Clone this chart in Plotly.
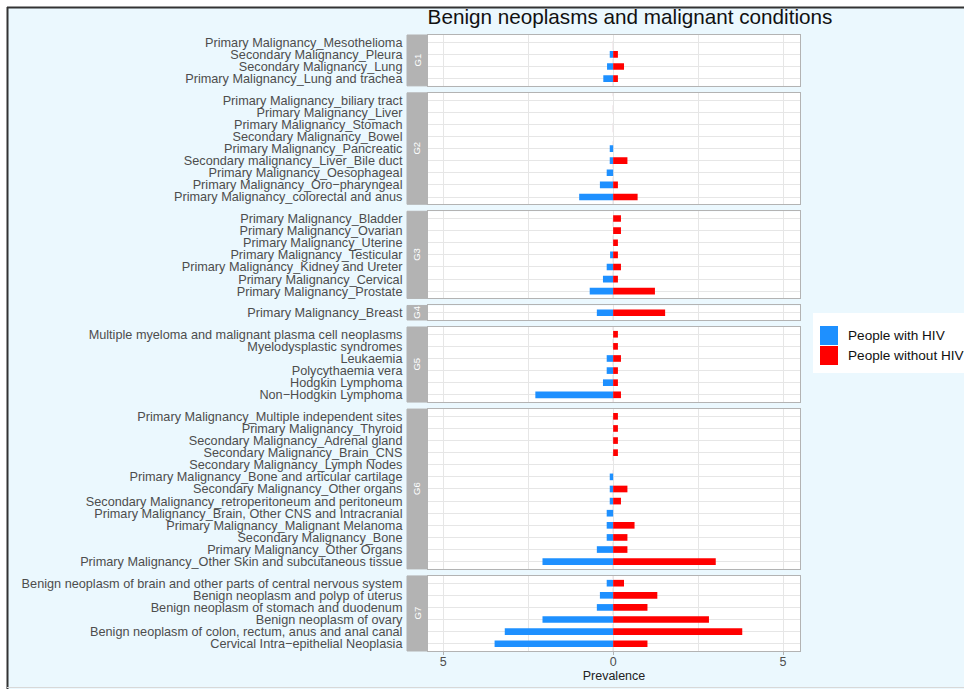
import plotly.graph_objects as go
from plotly.subplots import make_subplots

title = "Benign neoplasms and malignant conditions"
groups = ["G1", "G2", "G3", "G4", "G5", "G6", "G7"]

g1_labels = ["Primary Malignancy_Mesothelioma", "Secondary Malignancy_Pleura",
             "Secondary Malignancy_Lung", "Primary Malignancy_Lung and trachea"]
g1_hiv = [0.0, 0.10, 0.18, 0.29]
g1_nohiv = [0.0, 0.14, 0.32, 0.14]

g2_labels = ["Primary Malignancy_biliary tract", "Primary Malignancy_Liver",
             "Primary Malignancy_Stomach", "Secondary Malignancy_Bowel",
             "Primary Malignancy_Pancreatic", "Secondary malignancy_Liver_Bile duct",
             "Primary Malignancy_Oesophageal", "Primary Malignancy_Oro\u2212pharyngeal",
             "Primary Malignancy_colorectal and anus"]
g2_hiv = [0.0, 0.0, 0.0, 0.0, 0.10, 0.10, 0.19, 0.39, 1.00]
g2_nohiv = [0.0, 0.0, 0.0, 0.0, 0.0, 0.42, 0.0, 0.14, 0.72]

g3_labels = ["Primary Malignancy_Bladder", "Primary Malignancy_Ovarian",
             "Primary Malignancy_Uterine", "Primary Malignancy_Testicular",
             "Primary Malignancy_Kidney and Ureter", "Primary Malignancy_Cervical",
             "Primary Malignancy_Prostate"]
g3_hiv = [0.0, 0.0, 0.0, 0.09, 0.19, 0.30, 0.69]
g3_nohiv = [0.23, 0.23, 0.14, 0.14, 0.23, 0.14, 1.23]

g4_labels = ["Primary Malignancy_Breast"]
g4_hiv = [0.48]
g4_nohiv = [1.53]

g5_labels = ["Multiple myeloma and malignant plasma cell neoplasms", "Myelodysplastic syndromes",
             "Leukaemia", "Polycythaemia vera", "Hodgkin Lymphoma", "Non\u2212Hodgkin Lymphoma"]
g5_hiv = [0.0, 0.0, 0.19, 0.19, 0.30, 2.29]
g5_nohiv = [0.14, 0.14, 0.23, 0.14, 0.14, 0.23]

g6_labels = ["Primary Malignancy_Multiple independent sites", "Primary Malignancy_Thyroid",
             "Secondary Malignancy_Adrenal gland", "Secondary Malignancy_Brain_CNS",
             "Secondary Malignancy_Lymph Nodes", "Primary Malignancy_Bone and articular cartilage",
             "Secondary Malignancy_Other organs", "Secondary Malignancy_retroperitoneum and peritoneum",
             "Primary Malignancy_Brain, Other CNS and Intracranial", "Primary Malignancy_Malignant Melanoma",
             "Secondary Malignancy_Bone", "Primary Malignancy_Other Organs",
             "Primary Malignancy_Other Skin and subcutaneous tissue"]
g6_hiv = [0.0, 0.0, 0.0, 0.0, 0.0, 0.10, 0.10, 0.10, 0.19, 0.19, 0.19, 0.48, 2.08]
g6_nohiv = [0.14, 0.14, 0.14, 0.14, 0.0, 0.0, 0.42, 0.23, 0.0, 0.63, 0.42, 0.42, 3.02]

g7_labels = ["Benign neoplasm of brain and other parts of central nervous system",
             "Benign neoplasm and polyp of uterus", "Benign neoplasm of stomach and duodenum",
             "Benign neoplasm of ovary", "Benign neoplasm of colon, rectum, anus and anal canal",
             "Cervical Intra\u2212epithelial Neoplasia"]
g7_hiv = [0.19, 0.39, 0.48, 2.08, 3.19, 3.49]
g7_nohiv = [0.32, 1.30, 1.01, 2.82, 3.80, 1.01]

all_labels = [g1_labels, g2_labels, g3_labels, g4_labels, g5_labels, g6_labels, g7_labels]
all_hiv = [g1_hiv, g2_hiv, g3_hiv, g4_hiv, g5_hiv, g6_hiv, g7_hiv]
all_nohiv = [g1_nohiv, g2_nohiv, g3_nohiv, g4_nohiv, g5_nohiv, g6_nohiv, g7_nohiv]

x_ticks = [-5, 0, 5]
x_ticktext = ["5", "0", "5"]
series_names = ["People with HIV", "People without HIV"]

BLUE = "#1e90ff"
RED = "#ff0000"
BORDER = "#b3b3b3"
GRID = "#e6e6e6"
BG = "#ebf8fe"
FONT = "Liberation Sans, Arial"

W, H = 964, 689
ML, MR, MT, MB = 428, 164, 35, 38
PW = W - ML - MR
PH = H - MT - MB
SPACING = 7

def px2x(px):
    return (px - ML) / PW

def py2y(py):
    return (H - MB - py) / PH

heights = [len(l) + 0.2 for l in all_labels]
fig = make_subplots(rows=7, cols=1, shared_xaxes=True, row_heights=heights,
                    vertical_spacing=SPACING / PH)

shapes = []
annotations = []
for i, (labs, hv, nh) in enumerate(zip(all_labels, all_hiv, all_nohiv)):
    r = i + 1
    fig.add_trace(go.Bar(y=labs, x=[-v for v in hv], orientation="h", name=series_names[0],
                         marker=dict(color=BLUE, line=dict(width=0)), width=0.55,
                         showlegend=False), row=r, col=1)
    fig.add_trace(go.Bar(y=labs, x=nh, orientation="h", name=series_names[1],
                         marker=dict(color=RED, line=dict(width=0)), width=0.55,
                         showlegend=False), row=r, col=1)
    n = len(labs)
    fig.update_yaxes(row=r, col=1, type="category", categoryorder="array",
                     categoryarray=labs[::-1], range=[-0.6, n - 0.4],
                     tickmode="array", tickvals=labs, ticktext=labs,
                     showgrid=True, gridcolor=GRID, gridwidth=1,
                     showline=True, linecolor=BORDER, linewidth=1, mirror=True,
                     ticks="", ticklabelstandoff=22, automargin=False,
                     tickfont=dict(family=FONT, size=12.7, color="#4d4d4d"),
                     fixedrange=True)
    fig.update_xaxes(row=r, col=1, range=[-5.45, 5.5], tickvals=x_ticks, ticktext=x_ticktext,
                     showgrid=True, gridcolor=GRID, gridwidth=1,
                     minor=dict(tickvals=[-2.5, 2.5], showgrid=True, gridcolor=GRID, gridwidth=1),
                     showline=True, linecolor=BORDER, linewidth=1, mirror=True,
                     zeroline=False, showticklabels=(r == 7), automargin=False,
                     ticks="outside" if r == 7 else "", ticklen=3, tickcolor=BORDER,
                     ticklabelstandoff=-4,
                     tickfont=dict(family=FONT, size=12.5, color="#4d4d4d"), fixedrange=True)
    yref = "y" if r == 1 else f"y{r}"
    xref = "x" if r == 1 else f"x{r}"
    shapes.append(dict(type="line", xref=xref, yref=yref + " domain", x0=0, x1=0, y0=0, y1=1,
                       line=dict(color="rgba(210,170,185,0.6)", width=1, dash="dash"), layer="below"))
    shapes.append(dict(type="rect", xref="paper", yref=yref + " domain",
                       x0=px2x(407), x1=px2x(427), y0=0, y1=1,
                       fillcolor=BORDER, line=dict(color=BORDER, width=1), layer="above"))
    annotations.append(dict(text=groups[i], xref="paper", yref=yref + " domain",
                            x=px2x(417), y=0.5, showarrow=False, textangle=-90,
                            font=dict(family=FONT, size=9.5, color="white"),
                            xanchor="center", yanchor="middle"))

fig.update_xaxes(row=7, col=1, title=dict(text="Prevalence", standoff=3,
                 font=dict(family=FONT, size=12.5, color="#222222")))

# white outside the frame, dark frame lines, faint bottom line
shapes.append(dict(type="rect", xref="paper", yref="paper", x0=px2x(-5), x1=px2x(W + 5),
                   y0=py2y(7), y1=py2y(-5), fillcolor="white", line=dict(width=0)))
shapes.append(dict(type="rect", xref="paper", yref="paper", x0=px2x(-5), x1=px2x(7),
                   y0=py2y(H + 5), y1=py2y(-5), fillcolor="white", line=dict(width=0)))
shapes.append(dict(type="line", xref="paper", yref="paper", x0=px2x(7), x1=px2x(W + 5),
                   y0=py2y(7.5), y1=py2y(7.5), line=dict(color="#333333", width=2)))
shapes.append(dict(type="line", xref="paper", yref="paper", x0=px2x(7.5), x1=px2x(7.5),
                   y0=py2y(H + 5), y1=py2y(7), line=dict(color="#333333", width=2)))
shapes.append(dict(type="line", xref="paper", yref="paper", x0=px2x(7), x1=px2x(W + 5),
                   y0=py2y(687.5), y1=py2y(687.5), line=dict(color="#d8d8d8", width=1)))

shapes.append(dict(type="rect", xref="paper", yref="paper", x0=px2x(813), x1=px2x(W + 5),
                   y0=py2y(373), y1=py2y(313), fillcolor="white", line=dict(width=0)))
for k, (col, name) in enumerate(zip([BLUE, RED], series_names)):
    top = 326 + k * 20
    shapes.append(dict(type="rect", xref="paper", yref="paper", x0=px2x(820), x1=px2x(838),
                       y0=py2y(top + 19), y1=py2y(top), fillcolor=col, line=dict(width=0)))
    annotations.append(dict(text=name, xref="paper", yref="paper", x=px2x(846),
                            y=py2y(top + 9.5), showarrow=False, xanchor="left", yanchor="middle",
                            font=dict(family=FONT, size=13.6, color="#111111")))

fig.update_layout(
    width=W, height=H,
    margin=dict(l=ML, r=MR, t=MT, b=MB, autoexpand=False),
    paper_bgcolor=BG, plot_bgcolor="white",
    barmode="relative", bargap=0.45,
    showlegend=False,
    title=dict(text=title, x=630 / W, xanchor="center", y=1 - 17 / H, yanchor="middle",
               font=dict(family=FONT, size=20.7, color="#111111")),
    shapes=shapes, annotations=annotations,
)

fig.write_html("out.html", config={"displayModeBar": False},
               post_script="document.body.style.margin='0';document.body.style.overflow='hidden';")
